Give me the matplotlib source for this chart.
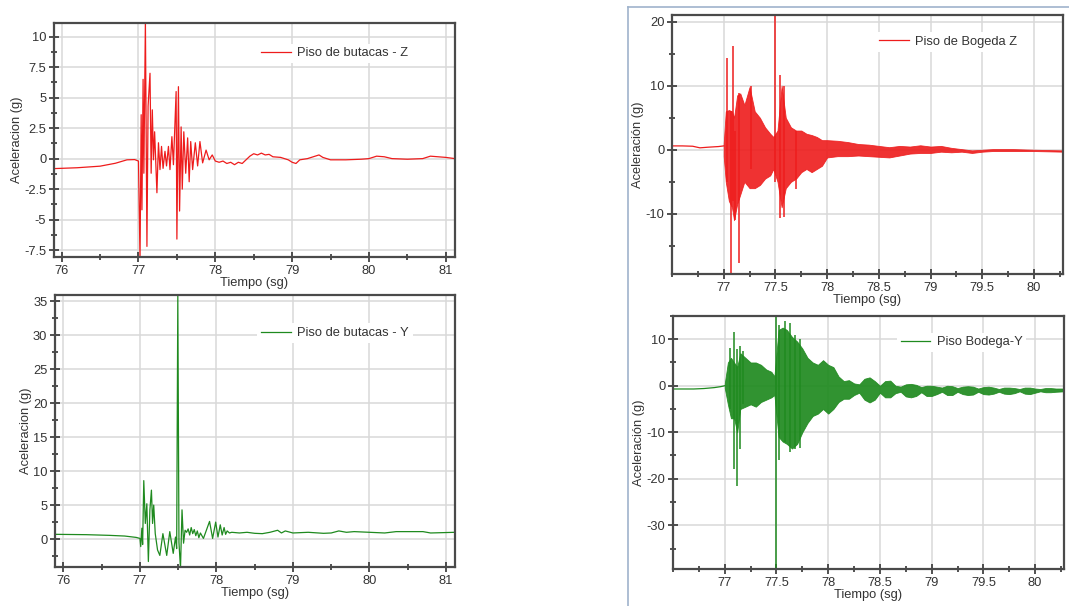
import numpy as np
import matplotlib
matplotlib.use('Agg')
import matplotlib.pyplot as plt
from matplotlib.ticker import MultipleLocator, FormatStrFormatter
from matplotlib.lines import Line2D

plt.rcParams['font.family'] = ['Liberation Sans', 'DejaVu Sans']
plt.rcParams['axes.unicode_minus'] = False

# --- Piso de butacas - Z (peaks)
butacas_z_t = [75.9, 76.2, 76.5, 76.7, 76.85, 76.95, 77.0, 77.02, 77.035, 77.045, 77.06, 77.07,
               77.09, 77.11, 77.125, 77.15, 77.165, 77.18, 77.195, 77.21, 77.24, 77.26, 77.28,
               77.30, 77.32, 77.345, 77.365, 77.39, 77.41, 77.435, 77.455, 77.49, 77.50, 77.52,
               77.535, 77.555, 77.57, 77.59, 77.615, 77.64, 77.66, 77.68, 77.705, 77.74, 77.77,
               77.80, 77.835, 77.88, 77.92, 77.96, 78.0, 78.05, 78.1, 78.15, 78.2, 78.25, 78.3,
               78.35, 78.4, 78.45, 78.5, 78.55, 78.6, 78.65, 78.7, 78.75, 78.85, 78.95, 79.0,
               79.05, 79.1, 79.2, 79.3, 79.35, 79.4, 79.5, 79.7, 79.9, 80.0, 80.1, 80.2, 80.3,
               80.5, 80.7, 80.8, 80.9, 81.0, 81.12]
butacas_z_a = [-0.82, -0.75, -0.62, -0.38, -0.1, -0.08, -0.2, -8.3, 3.6, -4.2, 6.5, -1.2,
               11.3, -7.2, 4.3, 7.0, -1.2, 4.0, -0.1, 2.2, -2.8, 1.3, -0.9,
               1.0, -0.8, 0.6, -0.6, 1.0, -0.9, 1.8, -0.5, 5.5, -6.6, 5.9,
               -4.3, 2.6, -2.5, 2.2, -1.2, 1.7, -1.9, 1.4, -0.9, 1.3, -0.6,
               1.4, -0.35, 0.7, -0.1, 0.3, -0.2, -0.3, -0.2, -0.4, -0.3, -0.5, -0.3,
               -0.4, -0.1, 0.2, 0.4, 0.3, 0.45, 0.3, 0.35, 0.15, 0.1, -0.1, -0.3,
               -0.4, -0.1, 0.0, 0.2, 0.3, 0.1, -0.1, -0.1, -0.05, 0.0, 0.2, 0.15, 0.0,
               -0.05, 0.0, 0.2, 0.15, 0.1, 0.0]

# --- Piso de butacas - Y
butacas_y_t = [75.9, 76.3, 76.6, 76.8, 76.95, 77.0, 77.01, 77.025, 77.035, 77.05, 77.07, 77.09,
               77.11, 77.13, 77.15, 77.165, 77.18, 77.2, 77.23, 77.26, 77.3, 77.35, 77.39,
               77.435, 77.465, 77.48, 77.495, 77.51, 77.53, 77.55, 77.57, 77.59, 77.61, 77.63,
               77.65, 77.67, 77.69, 77.71, 77.73, 77.75, 77.77, 77.79, 77.83, 77.91, 77.95,
               77.99, 78.02, 78.05, 78.075, 78.1, 78.12, 78.14, 78.17, 78.2, 78.3, 78.4, 78.5,
               78.6, 78.7, 78.8, 78.85, 78.9, 79.0, 79.2, 79.4, 79.5, 79.6, 79.7, 79.8, 80.0,
               80.2, 80.35, 80.7, 80.8, 81.12]
butacas_y_a = [0.7, 0.65, 0.55, 0.45, 0.25, 0.1, -1.1, 1.6, -0.8, 8.6, 2.3, 5.2,
               -3.3, 4.3, 7.2, 2.3, 5.0, 0.8, -1.6, -2.4, 0.8, -2.4, 1.1,
               -2.1, 0.3, -1.4, 35.8, -0.5, -4.3, 4.3, -0.6, 1.3, 1.0, 1.5,
               0.6, 1.7, 0.8, 1.4, 0.5, 1.2, 0.2, 0.9, 0.1, 2.6, 0.1,
               2.5, 0.3, 2.1, 0.6, 1.7, 0.7, 1.2, 0.9, 1.0, 0.9, 1.0, 0.85,
               0.8, 1.0, 1.3, 0.9, 1.2, 0.9, 1.0, 0.85, 0.9, 1.2, 1.0, 1.1, 1.0,
               0.9, 1.1, 1.1, 0.9, 1.0]

# --- Piso de Bogeda Z: quiet part, band envelope, single spikes
bogeda_z_pre_t = [76.5, 76.6, 76.7, 76.77, 76.85, 76.95, 77.0]
bogeda_z_pre_a = [0.6, 0.6, 0.55, 0.3, 0.4, 0.5, 0.6]
bogeda_z_t = [77.0, 77.02, 77.05, 77.08, 77.1, 77.13, 77.16, 77.2, 77.25, 77.3, 77.35, 77.4,
              77.45, 77.48, 77.52, 77.56, 77.6, 77.65, 77.7, 77.75, 77.8, 77.85, 77.9, 77.95,
              78.0, 78.1, 78.2, 78.3, 78.4, 78.5, 78.6, 78.7, 78.8, 78.9, 79.0, 79.1, 79.2,
              79.3, 79.4, 79.5, 79.6, 79.8, 80.0, 80.28]
bogeda_z_hi = [1.0, 6.0, 6.2, 6.0, 5.0, 8.5, 8.8, 7.0, 9.8, 6.0, 5.0, 3.5,
               2.5, 2.0, 3.0, 10.0, 5.0, 3.5, 3.0, 3.0, 2.5, 2.3, 2.0, 1.5,
               1.5, 1.4, 1.2, 0.9, 0.8, 0.6, 0.4, 0.6, 0.5, 0.7, 0.5, 0.6, 0.3,
               0.1, -0.1, 0.0, 0.1, 0.1, 0.0, -0.1]
bogeda_z_lo = [-1.0, -5.0, -8.0, -9.0, -11.0, -8.5, -7.0, -5.0, -6.0, -6.0, -5.5, -4.5,
               -4.0, -3.0, -5.0, -9.0, -6.0, -5.0, -4.5, -3.5, -3.0, -3.5, -3.0, -2.5,
               -1.2, -1.0, -1.0, -0.9, -1.0, -1.1, -1.2, -0.9, -0.6, -0.5, -0.5, -0.3, -0.4,
               -0.3, -0.5, -0.3, -0.2, -0.2, -0.2, -0.3]
bogeda_z_spike_t = [77.03, 77.07, 77.09, 77.11, 77.15, 77.26, 77.5, 77.54, 77.58, 77.7]
bogeda_z_spike_hi = [14.4, 6.0, 16.2, 3.0, 8.8, 10.0, 21.5, 11.7, 10.0, 3.0]
bogeda_z_spike_lo = [-5.0, -19.3, -8.0, -11.0, -17.7, -3.0, -5.0, -10.7, -10.5, -6.2]

# --- Piso Bodega-Y
bodega_y_pre_t = [76.5, 76.7, 76.8, 76.9, 76.96, 77.0]
bodega_y_pre_a = [-0.7, -0.7, -0.6, -0.4, -0.2, 0.0]
bodega_y_t = [77.0, 77.03, 77.06, 77.09, 77.12, 77.15, 77.2, 77.25, 77.3, 77.35, 77.4, 77.45,
              77.48, 77.52, 77.56, 77.6, 77.65, 77.7, 77.75, 77.8, 77.85, 77.9, 77.95, 78.0,
              78.05, 78.1, 78.15, 78.2, 78.25, 78.3, 78.35, 78.4, 78.45, 78.5, 78.55, 78.6,
              78.65, 78.7, 78.75, 78.8, 78.85, 78.9, 78.95, 79.0, 79.05, 79.1, 79.15, 79.2,
              79.25, 79.3, 79.35, 79.4, 79.45, 79.5, 79.55, 79.6, 79.65, 79.7, 79.75, 79.8,
              79.85, 79.9, 79.95, 80.0, 80.05, 80.1, 80.15, 80.2, 80.28]
bodega_y_hi = [0.5, 5.0, 6.0, 5.0, 4.0, 7.0, 6.0, 5.0, 5.0, 4.5, 3.5, 3.0,
               2.0, 12.0, 12.5, 12.0, 10.5, 9.5, 8.0, 6.0, 5.0, 4.5, 5.5, 4.5,
               4.0, 2.0, 1.0, 1.2, 0.5, 0.3, 1.5, 1.8, 1.0, 0.0, 1.0, 1.1,
               0.0, -0.2, 0.3, 0.4, 0.2, -0.3, 0.0, 0.0, -0.2, -0.4, 0.0, -0.1,
               -0.5, -0.2, -0.1, -0.2, -0.6, -0.3, -0.2, -0.4, -0.7, -0.4, -0.4, -0.5,
               -0.7, -0.4, -0.4, -0.6, -0.7, -0.5, -0.5, -0.6, -0.6]
bodega_y_lo = [-0.5, -4.0, -7.0, -7.0, -10.0, -5.0, -4.5, -4.0, -4.5, -3.5, -3.0, -2.5,
               -2.0, -11.0, -12.0, -12.5, -13.5, -12.5, -10.0, -8.0, -6.5, -6.0, -5.0, -6.0,
               -5.0, -3.5, -2.8, -2.8, -2.0, -1.5, -3.0, -3.6, -3.0, -1.5, -2.5, -2.5,
               -1.6, -1.3, -2.3, -2.5, -2.2, -1.4, -2.2, -2.2, -1.8, -1.3, -2.0, -2.0,
               -1.3, -1.8, -2.0, -1.9, -1.3, -1.8, -1.9, -1.7, -1.3, -1.7, -1.8, -1.6,
               -1.2, -1.7, -1.8, -1.5, -1.2, -1.4, -1.4, -1.3, -1.2]
bodega_y_spike_t = [77.05, 77.09, 77.12, 77.145, 77.18, 77.5, 77.52, 77.58, 77.63, 77.68, 77.73]
bodega_y_spike_hi = [8.2, 11.5, 8.0, 8.6, 7.5, 14.8, 13.0, 14.0, 13.5, 11.0, 10.0]
bodega_y_spike_lo = [-5.0, -18.0, -21.5, -13.6, -4.0, -39.5, -16.0, -12.0, -14.3, -13.5, -13.3]

RED = '#ee1c1c'
GREEN = '#1f8a1f'
TXT = '#333333'
FS = 9.3


def style_axes(ax, xlim, ylim, xmaj, xmin, ymaj, ymin, ylabel, xticks=None):
    ax.set_xlim(*xlim)
    ax.set_ylim(*ylim)
    if xticks is not None:
        ax.set_xticks(xticks)
    else:
        ax.xaxis.set_major_locator(MultipleLocator(xmaj))
    ax.xaxis.set_minor_locator(MultipleLocator(xmin))
    ax.yaxis.set_major_locator(MultipleLocator(ymaj))
    ax.yaxis.set_minor_locator(MultipleLocator(ymin))
    ax.xaxis.set_major_formatter(FormatStrFormatter('%g'))
    ax.yaxis.set_major_formatter(FormatStrFormatter('%g'))
    ax.grid(True, which='major', color='#d9d9d9', linewidth=1.1)
    ax.set_axisbelow(True)
    for s in ax.spines.values():
        s.set_color('#4a4a4a')
        s.set_linewidth(1.6)
    ax.tick_params(which='major', direction='inout', length=7, width=1.2,
                   colors='#333333', labelsize=FS, labelcolor=TXT, pad=2)
    ax.tick_params(which='minor', direction='inout', length=4, width=1.2, colors='#333333')
    ax.set_xlabel('Tiempo (sg)', fontsize=FS, color=TXT, labelpad=0)
    ax.set_ylabel(ylabel, fontsize=FS, color=TXT, labelpad=1)


def add_legend(ax, anchor):
    leg = ax.legend(loc='upper right', bbox_to_anchor=anchor, fontsize=FS,
                    frameon=True, facecolor='white', edgecolor='none', framealpha=1,
                    handlelength=2.3, borderpad=0.3, handletextpad=0.5)
    for t in leg.get_texts():
        t.set_color(TXT)


fig = plt.figure(figsize=(10.69, 6.06), dpi=100)

# top left
ax1 = fig.add_axes([0.0505, 0.5759, 0.3751, 0.3861])
ax1.plot(butacas_z_t, butacas_z_a, color=RED, linewidth=0.9, label='Piso de butacas - Z')
style_axes(ax1, (75.9, 81.12), (-8.07, 11.12), 1, 0.5, 2.5, 1.25, 'Aceleracion (g)')
add_legend(ax1, (0.91, 0.94))

# bottom left
ax2 = fig.add_axes([0.0515, 0.0644, 0.3742, 0.4488])
ax2.plot(butacas_y_t, butacas_y_a, color=GREEN, linewidth=0.9, label='Piso de butacas - Y')
style_axes(ax2, (75.89, 81.12), (-4.1, 35.9), 1, 0.5, 5, 2.5, 'Aceleracion (g)')
add_legend(ax2, (0.91, 0.92))

# top right
ax3 = fig.add_axes([0.6286, 0.5479, 0.3658, 0.4274])
ax3.plot(bogeda_z_pre_t, bogeda_z_pre_a, color=RED, linewidth=0.9, label='Piso de Bogeda Z')
ax3.fill_between(bogeda_z_t, bogeda_z_lo, bogeda_z_hi, color=RED, alpha=0.9, linewidth=0.6,
                 edgecolor=RED)
ax3.vlines(bogeda_z_spike_t, bogeda_z_spike_lo, bogeda_z_spike_hi, color=RED, linewidth=1.1)
style_axes(ax3, (76.5, 80.28), (-19.4, 21.05), 0.5, 0.25, 10, 5, 'Aceleración (g)',
           xticks=np.arange(77, 80.01, 0.5))
add_legend(ax3, (0.91, 0.96))

# bottom right
ax4 = fig.add_axes([0.6296, 0.0611, 0.3658, 0.4175])
ax4.plot(bodega_y_pre_t, bodega_y_pre_a, color=GREEN, linewidth=0.9, label='Piso Bodega-Y')
ax4.fill_between(bodega_y_t, bodega_y_lo, bodega_y_hi, color=GREEN, alpha=0.92, linewidth=0.6,
                 edgecolor=GREEN)
ax4.vlines(bodega_y_spike_t, bodega_y_spike_lo, bodega_y_spike_hi, color=GREEN, linewidth=1.1)
style_axes(ax4, (76.5, 80.28), (-39.4, 15.0), 0.5, 0.25, 10, 5, 'Aceleración (g)',
           xticks=np.arange(77, 80.01, 0.5))
add_legend(ax4, (0.92, 0.96))

# thin frame around the right-hand figures
fig.add_artist(Line2D([628 / 1069, 628 / 1069], [0, 1 - 7 / 606], color='#9fb3cc', linewidth=1.2))
fig.add_artist(Line2D([628 / 1069, 1], [1 - 7 / 606, 1 - 7 / 606], color='#9fb3cc', linewidth=1.2))

fig.savefig('out.png', dpi=100)
